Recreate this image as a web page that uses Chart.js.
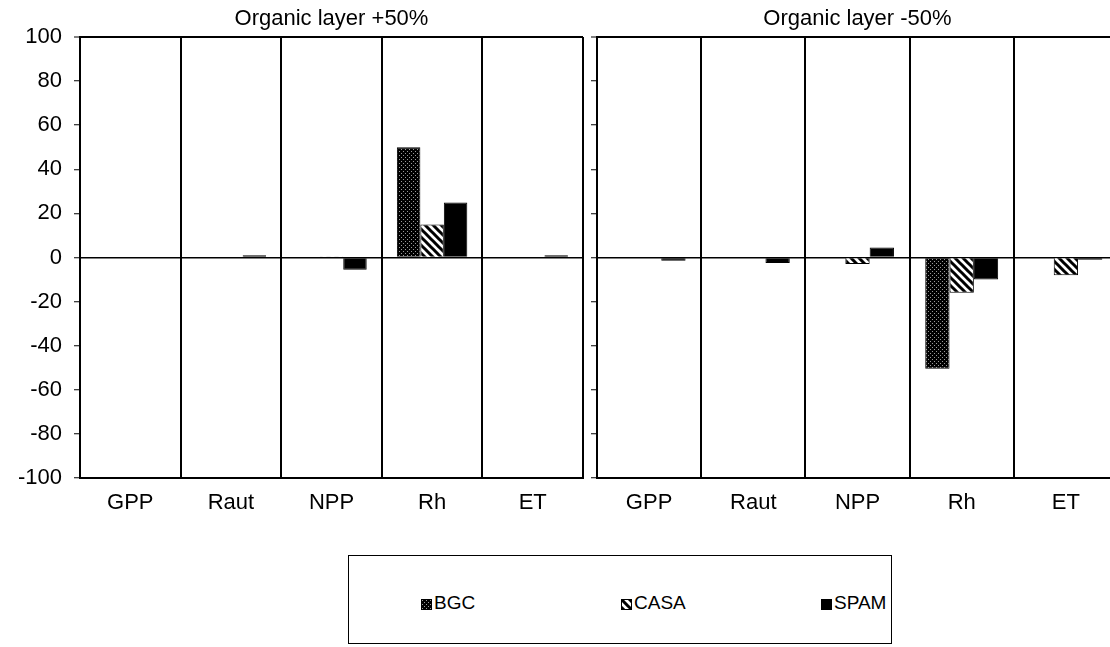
<!DOCTYPE html>
<html>
<head>
<meta charset="utf-8">
<script src="https://cdn.jsdelivr.net/npm/chart.js@4/dist/chart.umd.min.js"></script>
<style>
  html, body { margin: 0; padding: 0; background: #fff; overflow: hidden; width: 1110px; height: 647px; }
  #left { position: absolute; left: 0; top: 0; }
  #right { position: absolute; left: 585px; top: 0; }
  #legend {
    position: absolute; left: 348px; top: 555px; width: 544px; height: 89px;
    border: 1px solid #000; box-sizing: border-box;
    font-family: 'Liberation Sans', Arial, sans-serif; font-size: 19px; color: #000;
  }
  .item { position: absolute; top: 36px; line-height: 22px; }
  .item canvas { vertical-align: -1px; margin-right: 2px; }
</style>
</head>
<body>
<canvas id="left" width="590" height="530"></canvas>
<canvas id="right" width="540" height="530"></canvas>
<div id="legend"></div>
<script>
const categories = ['GPP', 'Raut', 'NPP', 'Rh', 'ET'];
const seriesNames = ['BGC', 'CASA', 'SPAM'];
const panelTitles = ['Organic layer +50%', 'Organic layer -50%'];

// Organic layer +50%
const plusBGC  = [0, 0, 0, 50, 0];
const plusCASA = [0, 0, 0.5, 15, 0];
const plusSPAM = [0, 1, -5.5, 25, 1];

// Organic layer -50%
const minusBGC  = [-0.3, 0, -0.3, -50.5, 0];
const minusCASA = [0, 0, -3, -16, -8];
const minusSPAM = [-1.5, -2.5, 4.5, -10, -1];

const yMin = -100, yMax = 100, yStep = 20;

const FONT = "'Liberation Sans', Arial, sans-serif";

// fill patterns
function dotPattern() {
    const c = document.createElement('canvas');
    c.width = 4; c.height = 4;
    const g = c.getContext('2d');
    g.fillStyle = '#000';
    g.fillRect(0, 0, 4, 4);
    g.fillStyle = '#9a9a9a';
    g.fillRect(1, 1, 1, 1);
    g.fillRect(3, 3, 1, 1);
    return c;
}
function stripePattern() {
    const c = document.createElement('canvas');
    c.width = 8; c.height = 8;
    const g = c.getContext('2d');
    g.fillStyle = '#fff';
    g.fillRect(0, 0, 8, 8);
    g.strokeStyle = '#000';
    g.lineWidth = 3;
    g.beginPath();
    g.moveTo(-2, -2); g.lineTo(10, 10);
    g.moveTo(-6, 2); g.lineTo(2, 10);
    g.moveTo(6, -2); g.lineTo(10, 2);
    g.stroke();
    return c;
}
const tmp = document.createElement('canvas').getContext('2d');
const fills = [
    tmp.createPattern(dotPattern(), 'repeat'),
    tmp.createPattern(stripePattern(), 'repeat'),
    '#000'
];

const desenhar = (canvasId, title, series, showLabels) => {
    const canvas = document.getElementById(canvasId);
    return new Chart(canvas.getContext('2d'), {
        type: 'bar',
        data: {
            labels: categories,
            datasets: series.map((d, i) => ({
                label: seriesNames[i],
                data: d,
                backgroundColor: fills[i],
                borderColor: '#000',
                borderWidth: 1,
                categoryPercentage: 0.7,
                barPercentage: 1
            }))
        },
        options: {
            responsive: false,
            animation: false,
            layout: { padding: { left: 0, right: 7, top: 0, bottom: 0 } },
            plugins: {
                legend: { display: false },
                tooltip: { enabled: false },
                title: {
                    display: true, text: title, fullSize: false, color: '#000',
                    font: { family: FONT, size: 22, weight: 'normal' },
                    padding: { top: 5.6, bottom: 5 }
                }
            },
            scales: {
                x: {
                    grid: { color: '#000', lineWidth: 2, drawTicks: false, offset: true },
                    border: { color: '#000', width: 2 },
                    ticks: { color: '#000', padding: 12, font: { family: FONT, size: 22 } },
                    afterFit: s => { s.height = 52; }
                },
                y: {
                    min: yMin, max: yMax,
                    ticks: {
                        stepSize: yStep, padding: 12,
                        color: showLabels ? '#000' : 'transparent',
                        font: { family: FONT, size: 22 }
                    },
                    grid: {
                        color: c => (c.tick.value === 0 || c.tick.value === yMax) ? '#000' : 'transparent',
                        lineWidth: c => c.tick.value === yMax ? 2 : 1.5,
                        tickColor: '#000', tickLength: 6, tickWidth: 1
                    },
                    border: { color: '#000', width: 2 },
                    afterFit: s => { s.width = showLabels ? 80 : 12; }
                }
            }
        }
    });
};

desenhar('left', panelTitles[0], [plusBGC, plusCASA, plusSPAM], true);
desenhar('right', panelTitles[1], [minusBGC, minusCASA, minusSPAM], false);

// legend
const legend = document.getElementById('legend');
const itemLeft = [72, 272, 472];
seriesNames.forEach((name, i) => {
    const item = document.createElement('div');
    item.className = 'item';
    item.style.left = itemLeft[i] + 'px';
    const sw = document.createElement('canvas');
    sw.width = 11; sw.height = 11;
    const g = sw.getContext('2d');
    g.fillStyle = fills[i];
    g.fillRect(0, 0, 11, 11);
    g.strokeStyle = '#000';
    g.strokeRect(0.5, 0.5, 10, 10);
    item.appendChild(sw);
    item.appendChild(document.createTextNode(name));
    legend.appendChild(item);
});
</script>
</body>
</html>
